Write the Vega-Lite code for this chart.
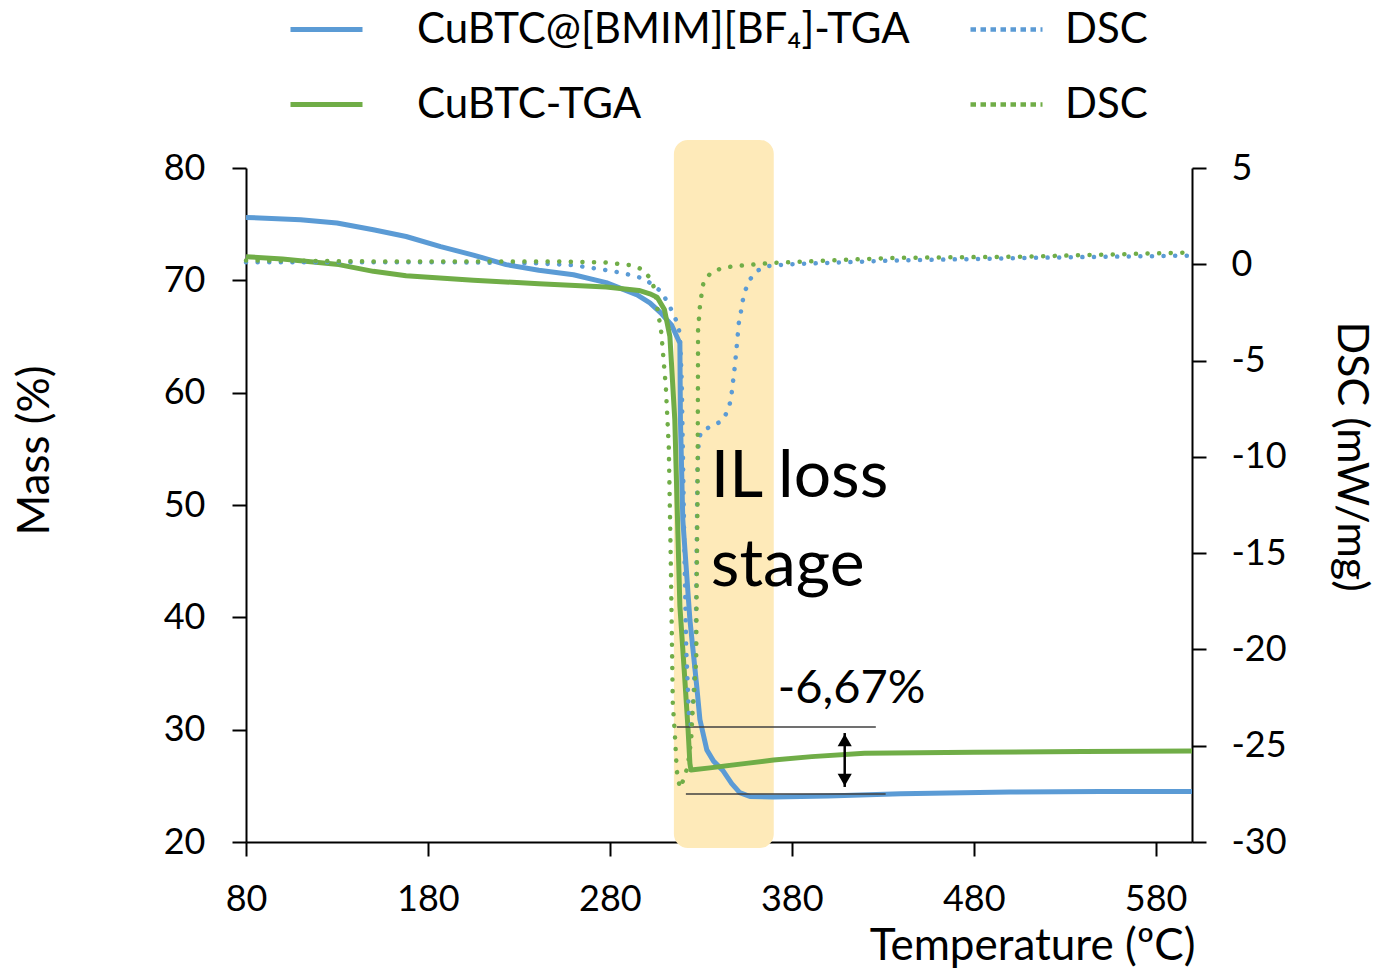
{
 "$schema": "https://vega.github.io/schema/vega-lite/v6.json",
 "width": 946, "height": 674,
 "autosize": {"type": "none"},
 "padding": {"left": 246, "top": 168, "right": 186, "bottom": 128},
 "config": {
  "font": "Lato",
  "view": {"stroke": null},
  "axis": {"labelFont": "Lato", "labelFontSize": 36, "labelColor": "#000", "titleFont": "Lato", "titleFontSize": 44, "titleFontWeight": "normal", "titleColor": "#000", "domainColor": "#000", "domainWidth": 2, "tickColor": "#000", "tickWidth": 2, "tickSize": 14, "grid": false, "zindex": 1, "labelFlush": false},
  "legend": {"orient": "none", "direction": "vertical", "title": null, "symbolType": "stroke", "symbolSize": 5184, "labelFontSize": 42, "labelFont": "Lato", "labelColor": "#000", "labelLimit": 0, "rowPadding": 15}
 },
 "datasets": {
  "band": [{"T": 315.2, "T2": 370.1, "v": 82.5, "v2": 19.47}],
  "tga": [
   {"series": "CuBTC@[BMIM][BF₄]-TGA", "T": 80, "v": 75.6},
   {"series": "CuBTC@[BMIM][BF₄]-TGA", "T": 110, "v": 75.4},
   {"series": "CuBTC@[BMIM][BF₄]-TGA", "T": 130, "v": 75.1},
   {"series": "CuBTC@[BMIM][BF₄]-TGA", "T": 150, "v": 74.5},
   {"series": "CuBTC@[BMIM][BF₄]-TGA", "T": 168, "v": 73.9},
   {"series": "CuBTC@[BMIM][BF₄]-TGA", "T": 187, "v": 73.0},
   {"series": "CuBTC@[BMIM][BF₄]-TGA", "T": 205, "v": 72.25},
   {"series": "CuBTC@[BMIM][BF₄]-TGA", "T": 223, "v": 71.4},
   {"series": "CuBTC@[BMIM][BF₄]-TGA", "T": 241, "v": 70.9},
   {"series": "CuBTC@[BMIM][BF₄]-TGA", "T": 260, "v": 70.5},
   {"series": "CuBTC@[BMIM][BF₄]-TGA", "T": 278, "v": 69.8},
   {"series": "CuBTC@[BMIM][BF₄]-TGA", "T": 295, "v": 68.7},
   {"series": "CuBTC@[BMIM][BF₄]-TGA", "T": 302, "v": 68.0},
   {"series": "CuBTC@[BMIM][BF₄]-TGA", "T": 308, "v": 67.1},
   {"series": "CuBTC@[BMIM][BF₄]-TGA", "T": 314, "v": 66.0},
   {"series": "CuBTC@[BMIM][BF₄]-TGA", "T": 318.5, "v": 64.4},
   {"series": "CuBTC@[BMIM][BF₄]-TGA", "T": 318.8, "v": 57.6},
   {"series": "CuBTC@[BMIM][BF₄]-TGA", "T": 320.1, "v": 48.7},
   {"series": "CuBTC@[BMIM][BF₄]-TGA", "T": 324, "v": 39.8},
   {"series": "CuBTC@[BMIM][BF₄]-TGA", "T": 327.8, "v": 33.8},
   {"series": "CuBTC@[BMIM][BF₄]-TGA", "T": 329.5, "v": 30.9},
   {"series": "CuBTC@[BMIM][BF₄]-TGA", "T": 333.3, "v": 28.2},
   {"series": "CuBTC@[BMIM][BF₄]-TGA", "T": 337, "v": 27.2},
   {"series": "CuBTC@[BMIM][BF₄]-TGA", "T": 342, "v": 26.4},
   {"series": "CuBTC@[BMIM][BF₄]-TGA", "T": 347, "v": 25.2},
   {"series": "CuBTC@[BMIM][BF₄]-TGA", "T": 351.4, "v": 24.4},
   {"series": "CuBTC@[BMIM][BF₄]-TGA", "T": 357, "v": 24.05},
   {"series": "CuBTC@[BMIM][BF₄]-TGA", "T": 370, "v": 24.0},
   {"series": "CuBTC@[BMIM][BF₄]-TGA", "T": 400, "v": 24.1},
   {"series": "CuBTC@[BMIM][BF₄]-TGA", "T": 440, "v": 24.3},
   {"series": "CuBTC@[BMIM][BF₄]-TGA", "T": 500, "v": 24.45},
   {"series": "CuBTC@[BMIM][BF₄]-TGA", "T": 550, "v": 24.5},
   {"series": "CuBTC@[BMIM][BF₄]-TGA", "T": 600, "v": 24.5},
   {"series": "CuBTC-TGA", "T": 80, "v": 72.1},
   {"series": "CuBTC-TGA", "T": 100, "v": 71.9},
   {"series": "CuBTC-TGA", "T": 131, "v": 71.4},
   {"series": "CuBTC-TGA", "T": 150, "v": 70.8},
   {"series": "CuBTC-TGA", "T": 168, "v": 70.4},
   {"series": "CuBTC-TGA", "T": 205, "v": 70.0},
   {"series": "CuBTC-TGA", "T": 241, "v": 69.7},
   {"series": "CuBTC-TGA", "T": 278, "v": 69.4},
   {"series": "CuBTC-TGA", "T": 296, "v": 69.1},
   {"series": "CuBTC-TGA", "T": 302, "v": 68.8},
   {"series": "CuBTC-TGA", "T": 306, "v": 68.5},
   {"series": "CuBTC-TGA", "T": 310, "v": 67.4},
   {"series": "CuBTC-TGA", "T": 313, "v": 65.0},
   {"series": "CuBTC-TGA", "T": 315.7, "v": 57.6},
   {"series": "CuBTC-TGA", "T": 318.5, "v": 41.0},
   {"series": "CuBTC-TGA", "T": 321, "v": 35.0},
   {"series": "CuBTC-TGA", "T": 323, "v": 30.0},
   {"series": "CuBTC-TGA", "T": 324, "v": 27.0},
   {"series": "CuBTC-TGA", "T": 324.6, "v": 26.4},
   {"series": "CuBTC-TGA", "T": 335, "v": 26.6},
   {"series": "CuBTC-TGA", "T": 355, "v": 27.0},
   {"series": "CuBTC-TGA", "T": 370, "v": 27.3},
   {"series": "CuBTC-TGA", "T": 391, "v": 27.6},
   {"series": "CuBTC-TGA", "T": 420, "v": 27.9},
   {"series": "CuBTC-TGA", "T": 480, "v": 28.0},
   {"series": "CuBTC-TGA", "T": 540, "v": 28.05},
   {"series": "CuBTC-TGA", "T": 600, "v": 28.1}
  ],
  "dsc": [
   {"series": "DSC-1", "T": 80, "v": 0.1},
   {"series": "DSC-1", "T": 120, "v": 0.1},
   {"series": "DSC-1", "T": 160, "v": 0.1},
   {"series": "DSC-1", "T": 200, "v": 0.1},
   {"series": "DSC-1", "T": 240, "v": 0.05},
   {"series": "DSC-1", "T": 260, "v": -0.05},
   {"series": "DSC-1", "T": 278, "v": -0.3},
   {"series": "DSC-1", "T": 287, "v": -0.45},
   {"series": "DSC-1", "T": 299, "v": -0.75},
   {"series": "DSC-1", "T": 308.6, "v": -1.44},
   {"series": "DSC-1", "T": 314.6, "v": -2.5},
   {"series": "DSC-1", "T": 316.8, "v": -3.0},
   {"series": "DSC-1", "T": 318.5, "v": -3.6},
   {"series": "DSC-1", "T": 319.5, "v": -6},
   {"series": "DSC-1", "T": 320.2, "v": -10},
   {"series": "DSC-1", "T": 321, "v": -15},
   {"series": "DSC-1", "T": 322, "v": -20},
   {"series": "DSC-1", "T": 323.5, "v": -23.5},
   {"series": "DSC-1", "T": 324.5, "v": -23.9},
   {"series": "DSC-1", "T": 326, "v": -22.5},
   {"series": "DSC-1", "T": 327.3, "v": -19},
   {"series": "DSC-1", "T": 327.8, "v": -14},
   {"series": "DSC-1", "T": 328.2, "v": -10.5},
   {"series": "DSC-1", "T": 329, "v": -9.0},
   {"series": "DSC-1", "T": 331, "v": -8.6},
   {"series": "DSC-1", "T": 336.6, "v": -8.4},
   {"series": "DSC-1", "T": 342, "v": -8.1},
   {"series": "DSC-1", "T": 344.8, "v": -7.6},
   {"series": "DSC-1", "T": 346.5, "v": -7.05},
   {"series": "DSC-1", "T": 348.7, "v": -5.3},
   {"series": "DSC-1", "T": 349.8, "v": -4.2},
   {"series": "DSC-1", "T": 350.9, "v": -3.05},
   {"series": "DSC-1", "T": 352, "v": -2.5},
   {"series": "DSC-1", "T": 353, "v": -1.9},
   {"series": "DSC-1", "T": 354.7, "v": -1.3},
   {"series": "DSC-1", "T": 356.9, "v": -0.8},
   {"series": "DSC-1", "T": 360.8, "v": -0.35},
   {"series": "DSC-1", "T": 366, "v": -0.1},
   {"series": "DSC-1", "T": 378, "v": 0.0},
   {"series": "DSC-1", "T": 435, "v": 0.19},
   {"series": "DSC-1", "T": 509, "v": 0.33},
   {"series": "DSC-1", "T": 560, "v": 0.4},
   {"series": "DSC-1", "T": 600, "v": 0.45},
   {"series": "DSC-2", "T": 80, "v": 0.2},
   {"series": "DSC-2", "T": 150, "v": 0.15},
   {"series": "DSC-2", "T": 200, "v": 0.15},
   {"series": "DSC-2", "T": 250, "v": 0.15},
   {"series": "DSC-2", "T": 277, "v": 0.1},
   {"series": "DSC-2", "T": 291, "v": -0.04},
   {"series": "DSC-2", "T": 297.6, "v": -0.25},
   {"series": "DSC-2", "T": 302, "v": -0.7},
   {"series": "DSC-2", "T": 304.7, "v": -1.3},
   {"series": "DSC-2", "T": 306.4, "v": -2.5},
   {"series": "DSC-2", "T": 308, "v": -3.3},
   {"series": "DSC-2", "T": 308.6, "v": -3.9},
   {"series": "DSC-2", "T": 310.8, "v": -6.4},
   {"series": "DSC-2", "T": 312.4, "v": -9.5},
   {"series": "DSC-2", "T": 313.5, "v": -15.4},
   {"series": "DSC-2", "T": 314.6, "v": -22.8},
   {"series": "DSC-2", "T": 315.8, "v": -24.5},
   {"series": "DSC-2", "T": 316.8, "v": -26.3},
   {"series": "DSC-2", "T": 318.5, "v": -27.2},
   {"series": "DSC-2", "T": 321.2, "v": -26.6},
   {"series": "DSC-2", "T": 322.9, "v": -26.0},
   {"series": "DSC-2", "T": 324.7, "v": -24.7},
   {"series": "DSC-2", "T": 325.3, "v": -23.5},
   {"series": "DSC-2", "T": 326.4, "v": -22.1},
   {"series": "DSC-2", "T": 327.5, "v": -20.5},
   {"series": "DSC-2", "T": 327.7, "v": -17},
   {"series": "DSC-2", "T": 328.2, "v": -12.2},
   {"series": "DSC-2", "T": 328.4, "v": -7.05},
   {"series": "DSC-2", "T": 328.5, "v": -3.4},
   {"series": "DSC-2", "T": 329.5, "v": -2.2},
   {"series": "DSC-2", "T": 330.5, "v": -1.5},
   {"series": "DSC-2", "T": 331.6, "v": -0.87},
   {"series": "DSC-2", "T": 336, "v": -0.4},
   {"series": "DSC-2", "T": 342, "v": -0.19},
   {"series": "DSC-2", "T": 349, "v": -0.09},
   {"series": "DSC-2", "T": 355.8, "v": -0.04},
   {"series": "DSC-2", "T": 369.6, "v": 0.07},
   {"series": "DSC-2", "T": 435, "v": 0.33},
   {"series": "DSC-2", "T": 509, "v": 0.4},
   {"series": "DSC-2", "T": 594, "v": 0.6},
   {"series": "DSC-2", "T": 600, "v": 0.62}
  ],
  "bigText": [{"T": 335.5, "v": 50.71, "txt": "IL loss"}, {"T": 335.5, "v": 42.79, "txt": "stage"}],
  "smallText": [{"T": 372.3, "v": 32.37, "txt": "-6,67%"}],
  "hrules": [{"T": 316.8, "T2": 426.2, "v": 30.24}, {"T": 321.8, "T2": 431.6, "v": 24.27}],
  "shaft": [{"T": 409.1, "v": 29.7, "v2": 24.9}],
  "heads": [{"T": 409.1, "v": 29.08, "dir": "up"}, {"T": 409.1, "v": 25.52, "dir": "down"}]
 },
 "layer": [
  {
   "layer": [
    {
     "data": {"name": "band"},
     "mark": {"type": "rect", "color": "#FEEAB9", "cornerRadius": 14},
     "encoding": {
      "x": {"field": "T", "type": "quantitative", "scale": {"domain": [80, 600], "nice": false, "zero": false},
            "axis": {"values": [80, 180, 280, 380, 480, 580], "labelPadding": 26, "title": "Temperature (ºC)", "titleX": 949, "titleY": 104, "titleAlign": "right", "titleBaseline": "middle", "titleAnchor": null}},
      "x2": {"field": "T2"},
      "y": {"field": "v", "type": "quantitative", "scale": {"domain": [20, 80], "nice": false, "zero": false},
            "axis": {"values": [20, 30, 40, 50, 60, 70, 80], "labelPadding": 27, "title": "Mass (%)", "titleX": -211, "titleY": 282, "titleAngle": -90, "titleAlign": "center", "titleBaseline": "middle"}},
      "y2": {"field": "v2"}
     }
    },
    {
     "data": {"name": "tga"},
     "mark": {"type": "line", "strokeWidth": 5, "strokeJoin": "round"},
     "encoding": {
      "x": {"field": "T", "type": "quantitative"},
      "y": {"field": "v", "type": "quantitative"},
      "color": {"field": "series", "type": "nominal",
                "scale": {"domain": ["CuBTC@[BMIM][BF₄]-TGA", "CuBTC-TGA"], "range": ["#5B9BD5", "#70AD47"]},
                "legend": {"legendX": 42, "legendY": -177, "labelOffset": 52, "symbolStrokeWidth": 5}},
      "order": {"value": null}
     }
    },
    {
     "data": {"name": "hrules"},
     "mark": {"type": "rule", "color": "#404040", "strokeWidth": 1.5},
     "encoding": {"x": {"field": "T", "type": "quantitative"}, "x2": {"field": "T2"}, "y": {"field": "v", "type": "quantitative"}}
    },
    {
     "data": {"name": "shaft"},
     "mark": {"type": "rule", "color": "#000", "strokeWidth": 2.5},
     "encoding": {"x": {"field": "T", "type": "quantitative"}, "y": {"field": "v", "type": "quantitative"}, "y2": {"field": "v2"}}
    },
    {
     "data": {"name": "heads"},
     "mark": {"type": "point", "filled": true, "color": "#000", "size": 200, "opacity": 1},
     "encoding": {"x": {"field": "T", "type": "quantitative"}, "y": {"field": "v", "type": "quantitative"},
                  "shape": {"field": "dir", "type": "nominal", "scale": {"domain": ["up", "down"], "range": ["triangle-up", "triangle-down"]}, "legend": null}}
    },
    {
     "data": {"name": "bigText"},
     "mark": {"type": "text", "fontSize": 66, "align": "left", "baseline": "alphabetic", "color": "#000", "font": "Lato"},
     "encoding": {"x": {"field": "T", "type": "quantitative"}, "y": {"field": "v", "type": "quantitative"}, "text": {"field": "txt"}}
    },
    {
     "data": {"name": "smallText"},
     "mark": {"type": "text", "fontSize": 47, "align": "left", "baseline": "alphabetic", "color": "#000", "font": "Lato"},
     "encoding": {"x": {"field": "T", "type": "quantitative"}, "y": {"field": "v", "type": "quantitative"}, "text": {"field": "txt"}}
    }
   ]
  },
  {
   "data": {"name": "dsc"},
   "mark": {"type": "line", "strokeWidth": 4.5, "strokeDash": [0.1, 11.5], "strokeCap": "round"},
   "encoding": {
    "x": {"field": "T", "type": "quantitative"},
    "y": {"field": "v", "type": "quantitative", "scale": {"domain": [-30, 5], "nice": false, "zero": false},
          "axis": {"orient": "right", "values": [-30, -25, -20, -15, -10, -5, 0, 5], "labelPadding": 25, "labelExpr": "'' + datum.value", "title": "DSC (mW/mg)", "titleX": 158, "titleY": 288, "titleAngle": 90, "titleAlign": "center", "titleBaseline": "middle", "titleFontSize": 43}},
    "stroke": {"field": "series", "type": "nominal",
               "scale": {"domain": ["DSC-1", "DSC-2"], "range": ["#5B9BD5", "#70AD47"]},
               "legend": {"legendX": 722, "legendY": -177, "labelOffset": 20, "labelExpr": "'DSC'", "symbolDash": [5.5, 4.5], "symbolStrokeWidth": 4.5}},
    "order": {"value": null}
   }
  }
 ],
 "resolve": {"scale": {"y": "independent"}}
}
